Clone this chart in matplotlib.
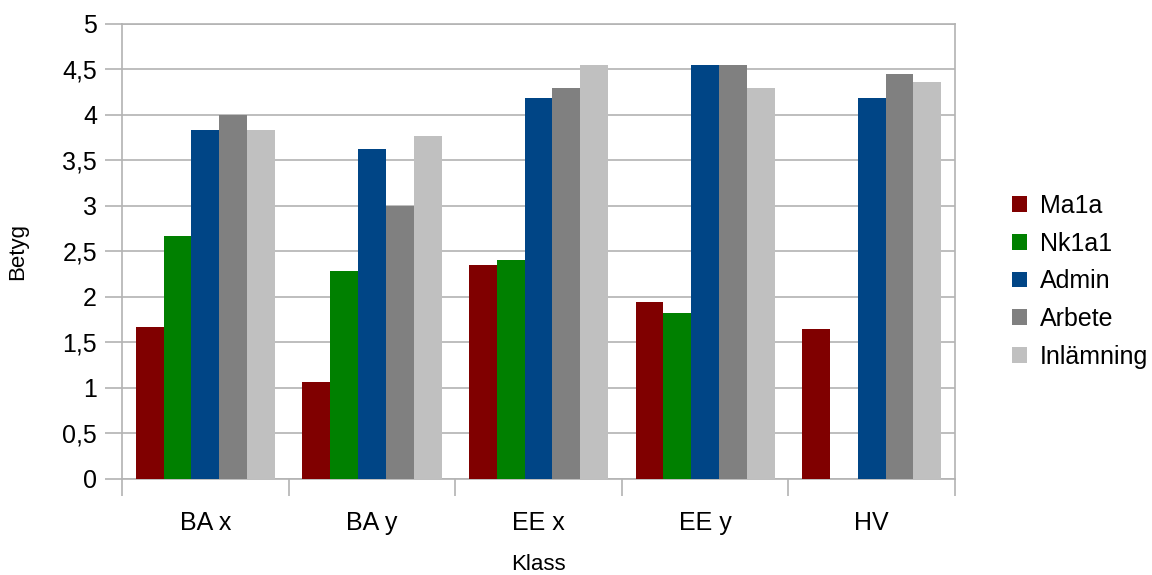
import numpy as np
import matplotlib
matplotlib.use("Agg")
import matplotlib.pyplot as plt

plt.rcParams["font.family"] = ["Liberation Sans", "DejaVu Sans"]

# Klasser och medelbetyg per moment
klasser = ["BA x", "BA y", "EE x", "EE y", "HV"]
ma1a = [1.67, 1.06, 2.35, 1.94, 1.65]
nk1a1 = [2.67, 2.28, 2.40, 1.82, 0.0]
admin = [3.83, 3.62, 4.18, 4.54, 4.18]
arbete = [4.0, 3.0, 4.29, 4.54, 4.45]
inlamning = [3.83, 3.77, 4.54, 4.29, 4.36]

serier = ["Ma1a", "Nk1a1", "Admin", "Arbete", "Inlämning"]
farger = ["#800000", "#008000", "#004586", "#808080", "#c0c0c0"]
GRID = "#b3b3b3"

fig = plt.figure(figsize=(11.52, 5.75), dpi=100)
ax = fig.add_axes([0.106, 0.167, 0.723, 0.792])

x = np.arange(len(klasser))
bredd = 0.167
for i, (namn, varden, farg) in enumerate(zip(serier, [ma1a, nk1a1, admin, arbete, inlamning], farger)):
    ax.bar(x + (i - 2) * bredd, varden, bredd, color=farg, label=namn, zorder=3)

ax.set_xlim(-0.5, len(klasser) - 0.5)
ax.set_ylim(0, 5)
ax.set_yticks(np.arange(0, 5.01, 0.5))
ax.set_yticklabels([f"{v:g}".replace(".", ",") for v in np.arange(0, 5.01, 0.5)])

# kategorietiketter i mitten, tickstreck mellan grupperna
ax.set_xticks(x)
ax.set_xticklabels(klasser)
ax.tick_params(axis="x", length=0, labelsize=18, pad=23)
ax.set_xticks(np.arange(-0.5, len(klasser)), minor=True)
ax.tick_params(axis="x", which="minor", length=12, color=GRID, width=1.2)
ax.tick_params(axis="y", length=12, color=GRID, width=1.2, labelsize=18, pad=6)

ax.grid(axis="y", color=GRID, linewidth=1.2, zorder=0)
for s in ax.spines.values():
    s.set_color(GRID)
    s.set_linewidth(1.2)

ax.set_xlabel("Klass", fontsize=16, labelpad=14)
ax.set_ylabel("Betyg", fontsize=16, labelpad=25)

ax.legend(loc="center left", bbox_to_anchor=(1.042, 0.434), frameon=False,
          fontsize=18, handlelength=0.6, handleheight=0.6, handletextpad=0.5,
          labelspacing=0.55)

fig.savefig("out.png", dpi=100)
